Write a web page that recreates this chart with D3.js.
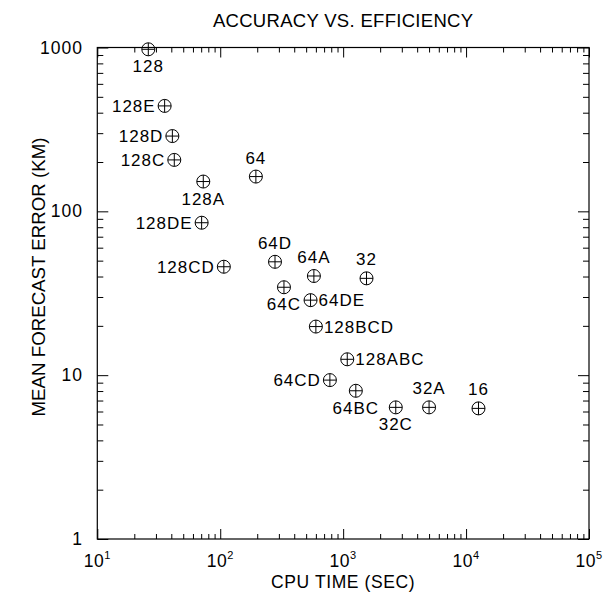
<!DOCTYPE html>
<html>
<head>
<meta charset="utf-8">
<script src="https://cdn.jsdelivr.net/npm/d3@7"></script>
<style>
  html, body { margin: 0; padding: 0; background: #fff; }
  text { font-family: "Liberation Sans", Arial, sans-serif; fill: #000; }
</style>
</head>
<body>
<svg id="chart" width="605" height="592"></svg>
<script>
// ---- data ----
const labels  = ["128","128E","128D","128C","128A","64","128DE","128CD","64D","64A","32","64C","64DE","128BCD","128ABC","64CD","64BC","32C","32A","16"];
const cpuTime = [26, 35.3, 40.8, 42.3, 72.8, 195, 70.6, 107, 279, 578, 1549, 330, 543, 600, 1080, 780, 1268, 2680, 5000, 12620];
const errorKm = [975, 440, 288, 206, 152, 163, 85.2, 45.9, 49.2, 40.3, 39, 34.4, 28.7, 19.8, 12.5, 9.33, 8.03, 6.36, 6.36, 6.27];
const labelSide = ["B","L","L","L","B","T","L","L","T","T","T","B","R","R","R","L","B","B","T","T"];
const xTickExp = [1, 2, 3, 4, 5];
const yTickLabels = ["1", "10", "100", "1000"];
const yTickValues = [1, 10, 100, 1000];
const titleText = "ACCURACY VS. EFFICIENCY";
const xTitle = "CPU TIME (SEC)";
const yTitle = "MEAN FORECAST ERROR (KM)";

// ---- layout ----
const L = 97.3, R = 589, T = 47.5, B = 539;
const svg = d3.select("#chart");
const x = d3.scaleLog().domain([10, 1e5]).range([L, R]);
const y = d3.scaleLog().domain([1, 1000]).range([B, T]);

function minorTicks(lo, hi) {
  const out = [];
  for (let e = lo; e < hi; e++) for (let m = 2; m <= 9; m++) out.push(m * Math.pow(10, e));
  return out;
}
const xMajor = xTickExp.map(e => Math.pow(10, e));
const xMinor = minorTicks(1, 5);
const yMinor = minorTicks(0, 3);

function addAxis(axisFn, scale, vals, size, transform) {
  const g = svg.append("g").attr("transform", transform)
    .call(axisFn(scale).tickValues(vals).tickSize(-size).tickFormat(""));
  g.select(".domain").remove();
  g.selectAll("line").attr("stroke", "#000").attr("stroke-width", 1);
}
// bottom & top
addAxis(d3.axisBottom, x, xMinor, 5, `translate(0,${B})`);
addAxis(d3.axisBottom, x, xMajor, 10, `translate(0,${B})`);
addAxis(d3.axisTop, x, xMinor, 5, `translate(0,${T})`);
addAxis(d3.axisTop, x, xMajor, 10, `translate(0,${T})`);
// left & right
addAxis(d3.axisLeft, y, yMinor, 6, `translate(${L},0)`);
addAxis(d3.axisLeft, y, yTickValues, 11, `translate(${L},0)`);
addAxis(d3.axisRight, y, yMinor, 6, `translate(${R},0)`);
addAxis(d3.axisRight, y, yTickValues, 11, `translate(${R},0)`);

// frame
svg.append("rect").attr("x", L).attr("y", T).attr("width", R - L).attr("height", B - T)
  .attr("fill", "none").attr("stroke", "#000").attr("stroke-width", 1.2);

// x tick labels 10^n
const xl = svg.append("g");
xTickExp.forEach(e => {
  const t = xl.append("text").attr("x", x(Math.pow(10, e))).attr("y", 567)
    .attr("text-anchor", "middle").attr("font-size", 17.5).attr("letter-spacing", 0.5);
  t.append("tspan").text("10");
  t.append("tspan").attr("dy", -8).attr("font-size", 11).text(String(e));
});
// y tick labels
yTickValues.forEach((v, i) => {
  svg.append("text").attr("x", 83).attr("y", y(v) + 6)
    .attr("text-anchor", "end").attr("font-size", 17.5).attr("letter-spacing", 1)
    .text(yTickLabels[i]);
});

// titles
svg.append("text").attr("x", (L + R) / 2).attr("y", 27).attr("text-anchor", "middle")
  .attr("font-size", 18.5).attr("letter-spacing", 0.3).text(titleText);
svg.append("text").attr("x", (L + R) / 2).attr("y", 588).attr("text-anchor", "middle")
  .attr("font-size", 17.5).attr("letter-spacing", 0.6).text(xTitle);
svg.append("text").attr("transform", "translate(45,277) rotate(-90)").attr("text-anchor", "middle")
  .attr("font-size", 18.7).text(yTitle);

// points
const pts = labels.map((l, i) => ({ l, cx: x(cpuTime[i]), cy: y(errorKm[i]), s: labelSide[i] }));
const r = 6.5;
const pg = svg.append("g").attr("stroke", "#000").attr("stroke-width", 1).attr("fill", "none");
pts.forEach(p => {
  pg.append("circle").attr("cx", p.cx).attr("cy", p.cy).attr("r", r);
  pg.append("line").attr("x1", p.cx - r).attr("x2", p.cx + r).attr("y1", p.cy).attr("y2", p.cy);
  pg.append("line").attr("x1", p.cx).attr("x2", p.cx).attr("y1", p.cy - r).attr("y2", p.cy + r);
});
pts.forEach(p => {
  let tx = p.cx, ty = p.cy, anchor = "middle";
  if (p.s === "L") { tx = p.cx - 9; ty = p.cy + 6; anchor = "end"; }
  if (p.s === "R") { tx = p.cx + 8; ty = p.cy + 6; anchor = "start"; }
  if (p.s === "T") { ty = p.cy - 13; }
  if (p.s === "B") { ty = p.cy + 23; }
  svg.append("text").attr("x", tx).attr("y", ty).attr("text-anchor", anchor)
    .attr("font-size", 17).attr("letter-spacing", 1).text(p.l);
});
</script>
</body>
</html>
